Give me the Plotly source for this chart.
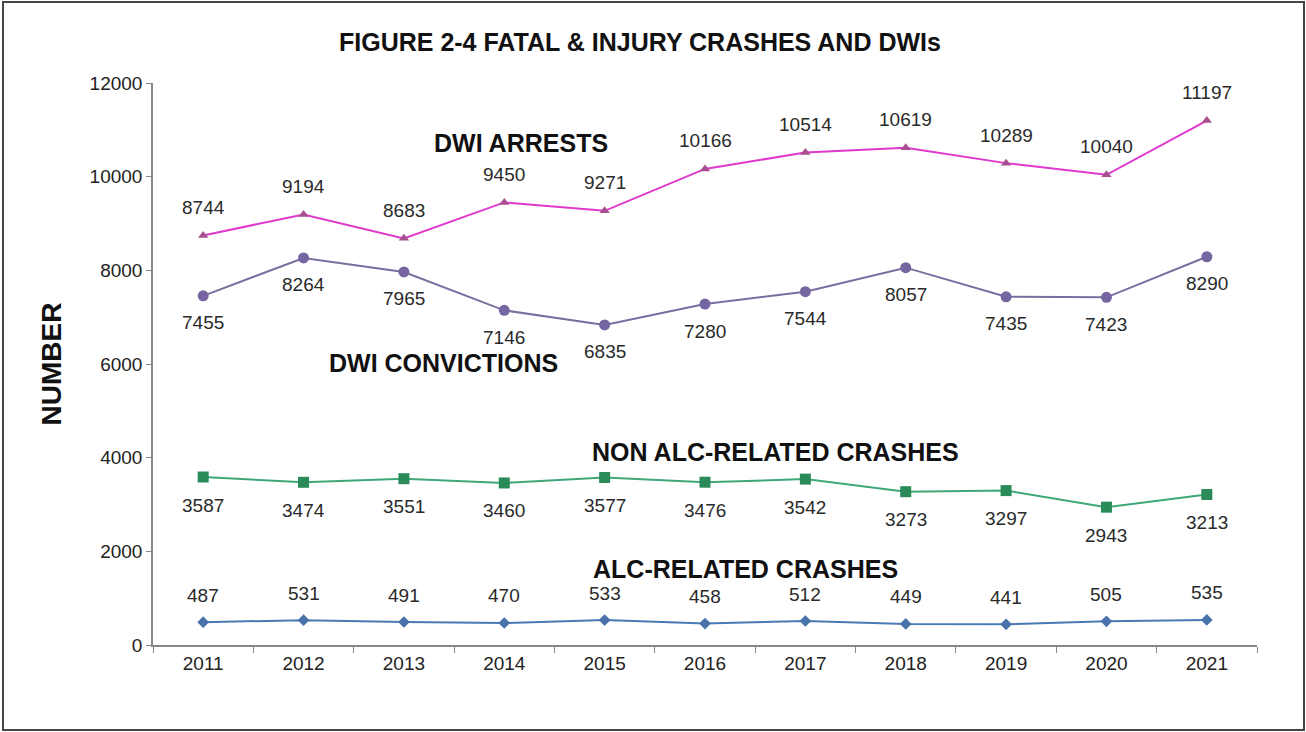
import plotly.graph_objects as go

years = ["2011", "2012", "2013", "2014", "2015", "2016", "2017", "2018", "2019", "2020", "2021"]
dwi_arrests = [8744, 9194, 8683, 9450, 9271, 10166, 10514, 10619, 10289, 10040, 11197]
dwi_convictions = [7455, 8264, 7965, 7146, 6835, 7280, 7544, 8057, 7435, 7423, 8290]
non_alc_crashes = [3587, 3474, 3551, 3460, 3577, 3476, 3542, 3273, 3297, 2943, 3213]
alc_crashes = [487, 531, 491, 470, 533, 458, 512, 449, 441, 505, 535]

W, H = 1306, 732
L, R, T, B = 153, 49, 83, 87
pw, ph = W - L - R, H - T - B

def px(x):
    return (x - L) / pw

def py(y):
    return (H - B - y) / ph

FAM = "Arial, Liberation Sans, sans-serif"
tfont = dict(family=FAM, size=19, color="#2a2a2a")

series = [
    (dwi_arrests, dict(color="#e038cc", width=2), dict(symbol="triangle-up", size=9, color="#a8508f")),
    (dwi_convictions, dict(color="#7a6ea0", width=2), dict(symbol="circle", size=11, color="#7565a0")),
    (non_alc_crashes, dict(color="#3fa878", width=2), dict(symbol="square", size=11, color="#2a8a58")),
    (alc_crashes, dict(color="#4a7ab5", width=2), dict(symbol="diamond", size=9, color="#4a72aa")),
]

fig = go.Figure()
for vals, ln, mk in series:
    fig.add_trace(go.Scatter(x=years, y=vals, mode="lines+markers", line=ln, marker=mk,
                             cliponaxis=False, hoverinfo="x+y"))

# vertical label offset (pixels) per series
offsets = [28, -27, -28, 27]

annotations = []
for (vals, _, _), dy in zip(series, offsets):
    for i, v in enumerate(vals):
        # category index i corresponds to years[i]
        annotations.append(dict(x=i, y=v, xref="x", yref="y", text=str(v), showarrow=False,
                                yshift=dy, xanchor="center", yanchor="middle",
                                font=tfont))

annos = [
    ("FIGURE 2-4 FATAL &amp; INJURY CRASHES AND DWIs", 640, 42, 25),
    ("DWI ARRESTS", 521, 143, 25),
    ("DWI CONVICTIONS", 443, 363, 25),
    ("NON ALC-RELATED CRASHES", 775, 452, 25),
    ("ALC-RELATED CRASHES", 745, 569, 25),
]
for t, x, y, s in annos:
    annotations.append(dict(text="<b>%s</b>" % t, x=px(x), y=py(y), xref="paper", yref="paper",
                            showarrow=False, xanchor="center", yanchor="middle",
                            font=dict(family=FAM, size=s, color="#111111")))

fig.update_layout(
    width=W, height=H,
    margin=dict(l=L, r=R, t=T, b=B),
    paper_bgcolor="white", plot_bgcolor="white",
    showlegend=False,
    annotations=annotations,
    shapes=[dict(type="rect", xref="paper", yref="paper",
                 x0=px(3), x1=px(1304), y0=py(730), y1=py(2),
                 line=dict(color="#444444", width=2), layer="below")],
    xaxis=dict(type="category", categoryorder="array", categoryarray=years, range=[-0.5, 10.5],
               showline=True, linecolor="#888888", linewidth=1.5,
               ticks="outside", tickson="boundaries", ticklen=6, tickcolor="#888888",
               showgrid=False, zeroline=False,
               tickfont=dict(family=FAM, size=19, color="#222222")),
    yaxis=dict(range=[0, 12000], dtick=2000, tickformat="d", showline=True, linecolor="#888888", linewidth=1.5,
               ticks="outside", ticklen=5, tickcolor="#888888", showgrid=False, zeroline=False,
               tickfont=dict(family=FAM, size=19, color="#222222"),
               title=dict(text="<b>NUMBER</b>", standoff=20,
                          font=dict(family=FAM, size=28, color="#111111"))),
)

fig.write_html("out.html", config={"displayModeBar": False},
               post_script="document.body.style.margin='0';document.body.style.padding='0';")
